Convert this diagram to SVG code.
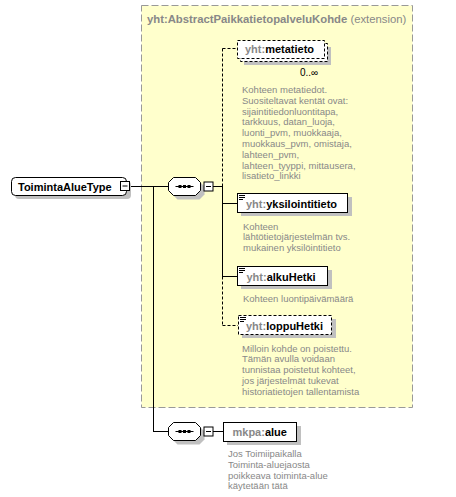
<svg xmlns="http://www.w3.org/2000/svg" width="456" height="497" viewBox="0 0 456 497">
<defs>
<style>
.ln{stroke:#000;stroke-width:1;fill:none}
.dl{stroke:#000;stroke-width:1;fill:none;stroke-dasharray:3,2}
.box{fill:#fff;stroke:#000;stroke-width:1}
.dbox{fill:#fff;stroke:#000;stroke-width:1;stroke-dasharray:3,2}
.sh{fill:#c0c0c0}
.nm{font-family:"Liberation Sans",Arial,sans-serif;font-size:11px;font-weight:bold;fill:#000}
.pf{fill:#888}
.ds{font-family:"Liberation Sans",Arial,sans-serif;font-size:9.5px;fill:#888}
.ic{stroke:#000;stroke-width:1;fill:none}
</style>
<g id="seqshape">
<polygon class="sh" points="9,4 31,4 36,9 36,17 31,22 9,22 4,17 4,9"/>
<polygon class="box" points="5,0 27,0 32,5 32,13 27,18 5,18 0,13 0,5"/>
<line class="ln" x1="7" y1="9" x2="25" y2="9"/>
<rect x="10" y="7.5" width="3" height="3" fill="#000"/>
<rect x="14.5" y="7.5" width="3" height="3" fill="#000"/>
<rect x="19" y="7.5" width="3" height="3" fill="#000"/>
<rect class="box" x="35.5" y="4.5" width="9" height="9"/>
<line class="ln" x1="37.5" y1="9" x2="42.5" y2="9"/>
</g>
</defs>

<g id="extension">
<rect x="141.5" y="5.5" width="271" height="402" fill="#ffffcc" stroke="#999" stroke-dasharray="7,3"/>
<text x="147" y="23" font-family="Liberation Sans,Arial,sans-serif" font-size="11.3px" fill="#888"><tspan font-weight="bold">yht:AbstractPaikkatietopalveluKohde</tspan> (extension)</text>
</g>

<g id="connectors">
<line class="ln" x1="130" y1="186.5" x2="168" y2="186.5"/>
<line class="ln" x1="153.5" y1="186" x2="153.5" y2="431.5"/>
<line class="ln" x1="153" y1="431.5" x2="168" y2="431.5"/>
<line class="ln" x1="213" y1="186.5" x2="222.5" y2="186.5"/>
<line class="dl" x1="222.5" y1="48.5" x2="222.5" y2="186"/>
<line class="ln" x1="222.5" y1="186" x2="222.5" y2="276.5"/>
<line class="dl" x1="222.5" y1="276.5" x2="222.5" y2="325.5"/>
<line class="dl" x1="222.5" y1="48.5" x2="237" y2="48.5"/>
<line class="ln" x1="222" y1="203.5" x2="237" y2="203.5"/>
<line class="ln" x1="222" y1="276.5" x2="237" y2="276.5"/>
<line class="dl" x1="222.5" y1="325.5" x2="238" y2="325.5"/>
<line class="ln" x1="213" y1="431.5" x2="223" y2="431.5"/>
</g>

<g id="ToimintaAlueType">
<rect class="sh" x="15" y="181" width="116" height="18" rx="4"/>
<rect class="box" x="11.5" y="177.5" width="115" height="18" rx="4"/>
<text class="nm" x="18" y="190.5" font-size="10.6px">ToimintaAlueType</text>
<rect class="box" x="120.5" y="181.5" width="9" height="9"/>
<line class="ln" x1="122.5" y1="186" x2="127.5" y2="186"/>
</g>

<g id="sequence1">
<use href="#seqshape" transform="translate(168.5,177.5)"/>
</g>

<g id="metatieto">
<rect class="sh" x="244" y="47" width="87" height="18"/>
<rect class="dbox" x="240.5" y="43.5" width="87" height="18"/>
<rect class="dbox" x="237.5" y="40.5" width="87" height="18"/>
<text class="nm" x="245" y="53"><tspan class="pf">yht:</tspan>metatieto</text>
<text x="300" y="76" font-family="Liberation Sans,Arial,sans-serif" font-size="10px" fill="#000">0..∞</text>
<text class="ds">
<tspan x="242" y="93">Kohteen metatiedot.</tspan>
<tspan x="242" y="103.8">Suositeltavat kentät ovat:</tspan>
<tspan x="242" y="114.6">sijaintitiedonluontitapa,</tspan>
<tspan x="242" y="125.4">tarkkuus, datan_luoja,</tspan>
<tspan x="242" y="136.2">luonti_pvm, muokkaaja,</tspan>
<tspan x="242" y="147">muokkaus_pvm, omistaja,</tspan>
<tspan x="242" y="157.8">lahteen_pvm,</tspan>
<tspan x="242" y="168.6">lahteen_tyyppi, mittausera,</tspan>
<tspan x="242" y="179.4">lisatieto_linkki</tspan>
</text>
</g>

<g id="yksilointitieto">
<rect class="sh" x="241" y="197" width="111" height="19"/>
<rect class="box" x="237.5" y="193.5" width="110" height="19"/>
<path class="ic" d="M239 195.5h6M239 197.5h6M239 199.5h4"/>
<text class="nm" x="246" y="207.5"><tspan class="pf">yht:</tspan>yksilointitieto</text>
<text class="ds">
<tspan x="243" y="229.5">Kohteen</tspan>
<tspan x="243" y="240.3">lähtötietojärjestelmän  tvs.</tspan>
<tspan x="243" y="251">mukainen yksilöintitieto</tspan>
</text>
</g>

<g id="alkuHetki">
<rect class="sh" x="241" y="270" width="91" height="19"/>
<rect class="box" x="237.5" y="266.5" width="90" height="19"/>
<path class="ic" d="M239 268.5h6M239 270.5h6M239 272.5h4"/>
<text class="nm" x="246.5" y="280.5"><tspan class="pf">yht:</tspan>alkuHetki</text>
<text class="ds" x="243" y="301.5">Kohteen luontipäivämäärä</text>
</g>

<g id="loppuHetki">
<rect class="sh" x="242" y="319" width="94" height="19"/>
<rect class="dbox" x="238.5" y="315.5" width="93" height="19"/>
<path class="ic" d="M240 317.5h6M240 319.5h6M240 321.5h4"/>
<text class="nm" x="246" y="329.5"><tspan class="pf">yht:</tspan>loppuHetki</text>
<text class="ds">
<tspan x="242" y="351.5">Milloin kohde on poistettu.</tspan>
<tspan x="242" y="362.3">Tämän avulla voidaan</tspan>
<tspan x="242" y="373.1">tunnistaa poistetut kohteet,</tspan>
<tspan x="242" y="383.9">jos järjestelmät tukevat</tspan>
<tspan x="242" y="394.7">historiatietojen tallentamista</tspan>
</text>
</g>

<g id="sequence2">
<use href="#seqshape" transform="translate(168.5,422.5)"/>
</g>

<g id="alue">
<rect class="sh" x="227" y="426" width="74" height="19"/>
<rect class="box" x="223.5" y="422.5" width="73" height="19"/>
<text class="nm" x="232.5" y="436"><tspan class="pf">mkpa:</tspan>alue</text>
<text class="ds">
<tspan x="228" y="457">Jos Toimiipaikalla</tspan>
<tspan x="228" y="467.8">Toiminta-aluejaosta</tspan>
<tspan x="228" y="478.6">poikkeava toiminta-alue</tspan>
<tspan x="228" y="489.4">käytetään tätä</tspan>
</text>
</g>
</svg>
